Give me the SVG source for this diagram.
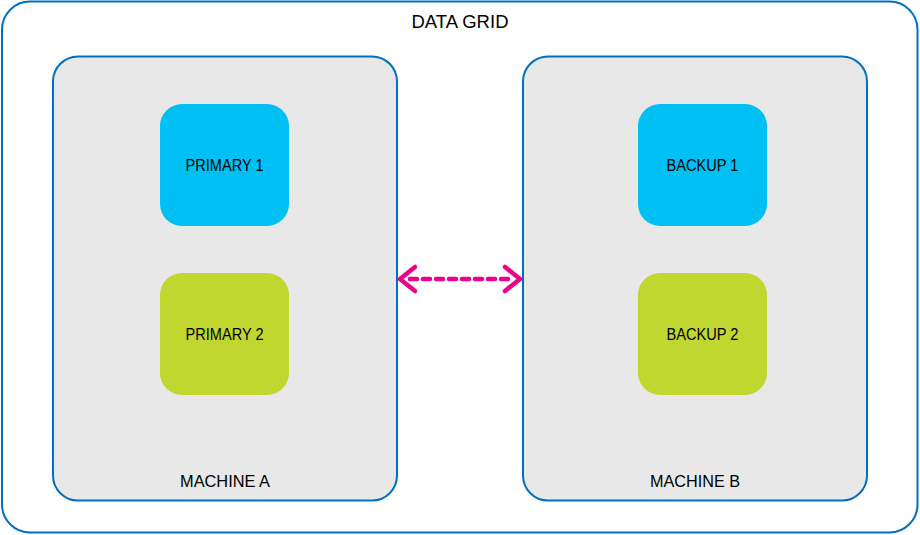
<svg xmlns="http://www.w3.org/2000/svg" width="920" height="535" viewBox="0 0 920 535">
<style>
.frame{fill:#ffffff;stroke:#0070c0;stroke-width:2}
.machine{fill:#e8e8e8;stroke:#0070c0;stroke-width:2}
.blue{fill:#00c0f3}
.green{fill:#c0d72f}
text{font-family:"Liberation Sans Narrow","Liberation Sans",Arial,sans-serif;fill:#000;text-anchor:middle}
.lbl{font-size:16px}
.title{font-size:19px}
.conn{stroke:#ec008c;stroke-width:4.5;fill:none;stroke-dasharray:7,6;stroke-linecap:round}
.head{stroke:#ec008c;stroke-width:4.5;fill:none;stroke-linecap:round;stroke-linejoin:round}
</style>
<g id="data-grid">
<rect class="frame" x="2" y="1.5" width="915.5" height="531" rx="28"/>
<text class="title" x="460" y="28" textLength="97" lengthAdjust="spacingAndGlyphs">DATA GRID</text>
</g>
<g id="machine-a">
<rect class="machine" x="53" y="56.5" width="344" height="444" rx="25"/>
<text class="lbl" x="225" y="487" textLength="90" lengthAdjust="spacingAndGlyphs">MACHINE A</text>
</g>
<g id="machine-b">
<rect class="machine" x="523" y="56.5" width="344" height="444" rx="25"/>
<text class="lbl" x="695" y="487" textLength="90" lengthAdjust="spacingAndGlyphs">MACHINE B</text>
</g>
<g id="primary-1">
<rect class="blue" x="160" y="104" width="129" height="122" rx="22"/>
<text class="lbl" x="224.5" y="171" textLength="78" lengthAdjust="spacingAndGlyphs">PRIMARY 1</text>
</g>
<g id="primary-2">
<rect class="green" x="160" y="273" width="129" height="122" rx="22"/>
<text class="lbl" x="224.5" y="340" textLength="78" lengthAdjust="spacingAndGlyphs">PRIMARY 2</text>
</g>
<g id="backup-1">
<rect class="blue" x="638" y="104" width="129" height="122" rx="22"/>
<text class="lbl" x="702.5" y="171" textLength="72" lengthAdjust="spacingAndGlyphs">BACKUP 1</text>
</g>
<g id="backup-2">
<rect class="green" x="638" y="273" width="129" height="122" rx="22"/>
<text class="lbl" x="702.5" y="340" textLength="72" lengthAdjust="spacingAndGlyphs">BACKUP 2</text>
</g>
<g id="connectors">
<line class="conn" x1="410" y1="279" x2="512" y2="279"/>
<polyline class="head" points="415,267 400,279 415,291"/>
<polyline class="head" points="505,267 520,279 505,291"/>
</g>
</svg>
